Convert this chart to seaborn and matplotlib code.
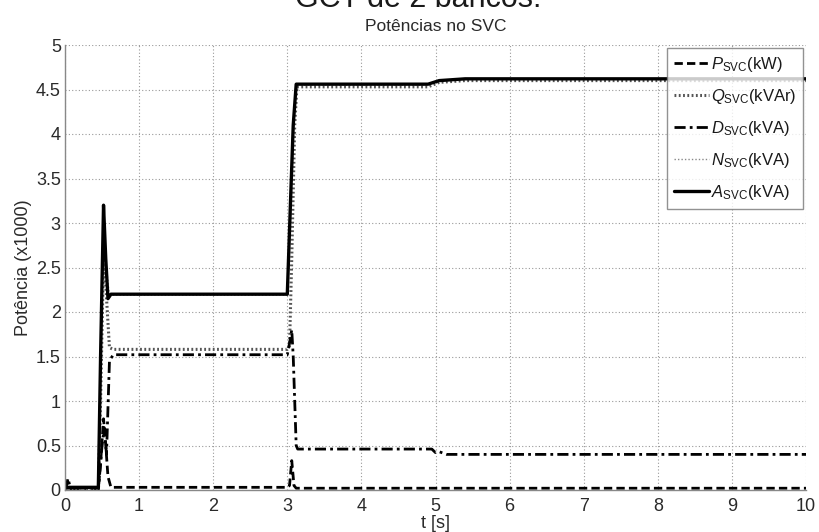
import matplotlib
matplotlib.use("Agg")
import matplotlib.pyplot as plt
import seaborn as sns
import pandas as pd

# Time samples (s) and powers (x1000) of each SVC quantity
t_p = [0.0, 0.45, 0.48, 0.52, 0.55, 0.58, 0.62, 3.0, 3.03, 3.06, 3.09, 3.12, 10.0]
v_p = [0.02, 0.02, 0.3, 0.8, 0.5, 0.15, 0.03, 0.03, 0.05, 0.33, 0.05, 0.02, 0.02]

t_q = [0.0, 0.45, 0.48, 0.52, 0.55, 0.6, 0.65, 3.0, 3.03, 3.06, 3.1, 3.13, 4.9, 5.05, 5.4, 10.0]
v_q = [0.0, 0.0, 1.0, 2.6, 2.3, 1.6, 1.58, 1.58, 1.62, 2.6, 4.1, 4.53, 4.53, 4.58, 4.6, 4.6]

t_d = [0.0, 0.02, 0.04, 0.08, 0.45, 0.5, 0.53, 0.56, 0.6, 0.65, 3.0, 3.03, 3.06, 3.08, 3.12, 3.14, 4.95, 5.0, 5.05, 5.15, 10.0]
v_d = [0.0, 0.05, 0.13, 0.0, 0.0, 0.5, 0.7, 0.4, 1.45, 1.52, 1.52, 1.65, 1.8, 1.5, 0.5, 0.46, 0.46, 0.42, 0.43, 0.4, 0.4]

t_n = [0.0, 0.45, 0.48, 0.52, 0.56, 0.6, 0.65, 3.0, 3.05, 3.1, 3.13, 4.9, 5.05, 5.4, 10.0]
v_n = [0.0, 0.0, 1.2, 3.1, 2.5, 2.17, 2.19, 2.19, 3.2, 4.4, 4.55, 4.55, 4.6, 4.62, 4.62]

t_a = [0.0, 0.45, 0.48, 0.52, 0.55, 0.58, 0.62, 3.0, 3.05, 3.08, 3.12, 4.9, 5.05, 5.4, 10.0]
v_a = [0.03, 0.03, 1.5, 3.2, 2.6, 2.15, 2.2, 2.2, 3.4, 4.1, 4.56, 4.56, 4.6, 4.62, 4.62]

x_ticks = list(range(0, 11))
y_ticks = [0, 0.5, 1, 1.5, 2, 2.5, 3, 3.5, 4, 4.5, 5]
y_tick_labels = ["0", "0.5", "1", "1.5", "2", "2.5", "3", "3.5", "4", "4.5", "5"]

labels = [r"$P_{\mathrm{SVC}}$(kW)", r"$Q_{\mathrm{SVC}}$(kVAr)",
          r"$D_{\mathrm{SVC}}$(kVA)", r"$N_{\mathrm{SVC}}$(kVA)",
          r"$A_{\mathrm{SVC}}$(kVA)"]

sns.set_theme(style="white")
plt.rcParams["font.family"] = ["Liberation Sans", "DejaVu Sans"]
plt.rcParams["mathtext.fontset"] = "custom"
plt.rcParams["mathtext.rm"] = "Liberation Sans"
plt.rcParams["mathtext.it"] = "Liberation Sans:italic"

fig = plt.figure(figsize=(8.19, 5.32), dpi=100)
ax = fig.add_axes([65 / 819, 1 - 490 / 532, 741 / 819, 445 / 532])

series = [
    (t_p, v_p, dict(color="black", lw=2.0, ls=(0, (3, 1.5)))),
    (t_q, v_q, dict(color="#555555", lw=2.2, ls=(0, (0.6, 0.8)))),
    (t_d, v_d, dict(color="black", lw=2.0, ls=(0, (4, 1.5, 1, 1.5)))),
    (t_n, v_n, dict(color="#888888", lw=1.0, ls=(0, (1, 1.5)))),
    (t_a, v_a, dict(color="black", lw=2.4, ls="-")),
]
for (tt, vv, style), lab in zip(series, labels):
    df = pd.DataFrame({"t": tt, "v": vv})
    sns.lineplot(data=df, x="t", y="v", ax=ax, estimator=None, sort=False,
                 label=lab, **style)

ax.set_xlim(0, 10)
ax.set_ylim(0, 5)
ax.set_xticks(x_ticks)
ax.set_yticks(y_ticks)
ax.set_yticklabels(y_tick_labels)
ax.tick_params(direction="in", length=4, labelsize=13, colors="#2a2a2a")
ax.tick_params(axis="x", pad=6)
ax.tick_params(axis="y", pad=3)
ax.grid(True, color="#999999", ls=(0, (1, 2)), lw=0.8)
for side in ("top", "right"):
    ax.spines[side].set_visible(False)
for side in ("left", "bottom"):
    ax.spines[side].set_color("#888888")
    ax.spines[side].set_linewidth(1.0)

ax.set_xlabel("t [s]", fontsize=13, labelpad=0, color="#2a2a2a")
ax.set_ylabel("Potência (x1000)", fontsize=13, labelpad=3, color="#2a2a2a")
ax.set_title("Potências no SVC", fontsize=12.5, pad=10, color="#2a2a2a")

fig.text(0.51, 1 - 7 / 532, "GCT de 2 bancos.", ha="center", va="baseline",
         fontsize=22, color="#1a1a1a")

leg = ax.legend(loc="upper right", fontsize=12, frameon=True, fancybox=False,
                handlelength=2.1, handletextpad=0.1, borderpad=0.4,
                labelspacing=0.78, borderaxespad=0.2)
leg.get_frame().set_edgecolor("#777777")
leg.get_frame().set_linewidth(1.0)
for txt in leg.get_texts():
    txt.set_color("#1a1a1a")

fig.savefig("out.png", dpi=100)
